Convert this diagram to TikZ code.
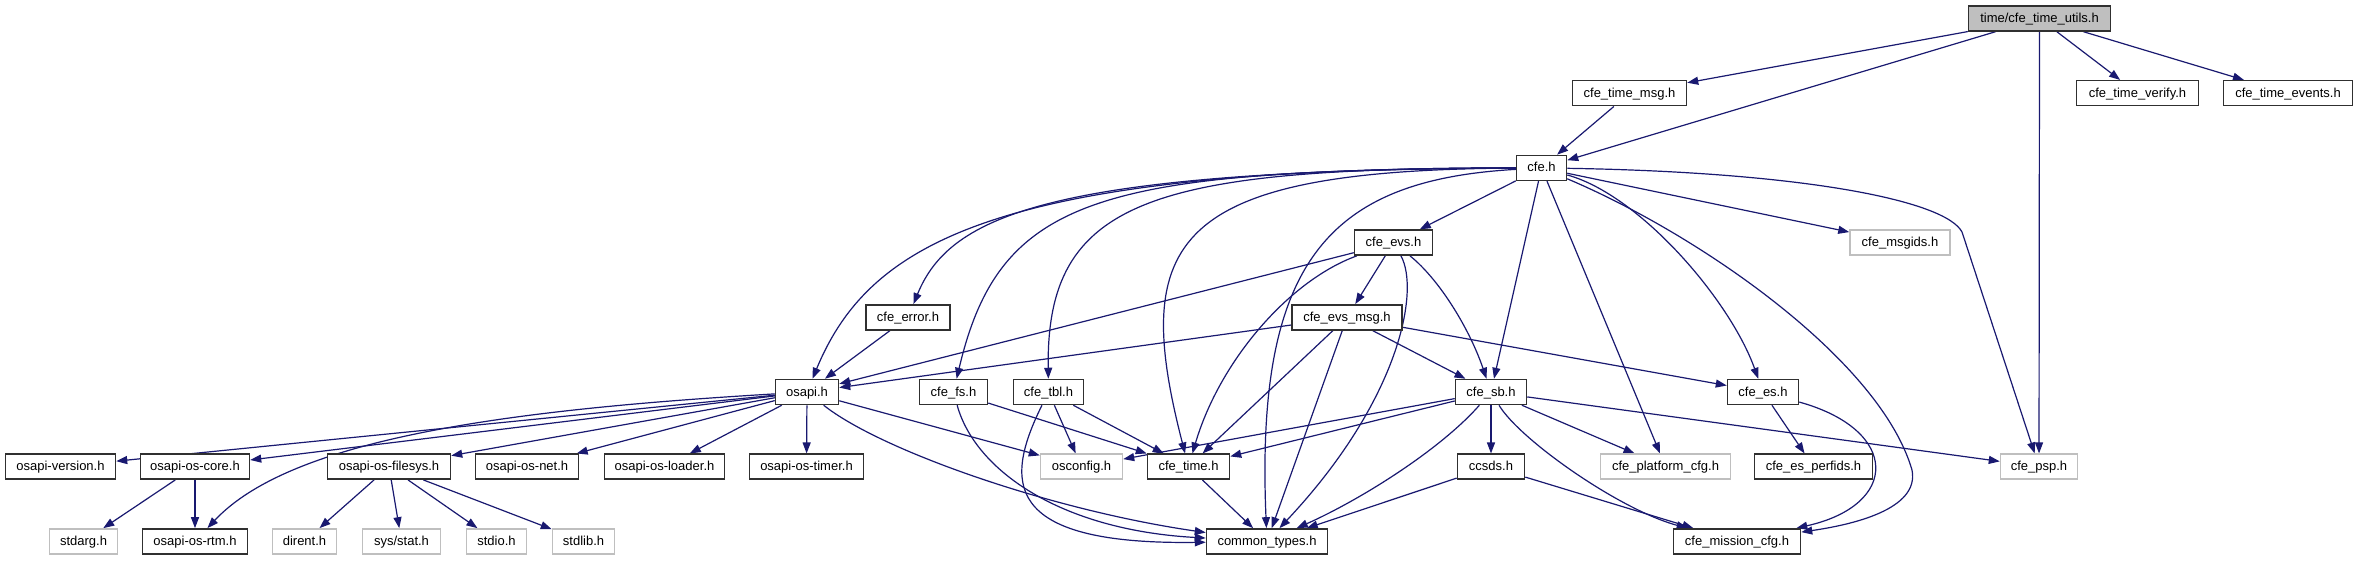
\documentclass[tikz,border=0pt]{standalone}
\usepackage{fontspec}
\setmainfont{Liberation Sans}
\usetikzlibrary{arrows.meta,backgrounds}
\definecolor{edgeblue}{HTML}{191970}
\definecolor{extgray}{HTML}{BFBFBF}
\definecolor{rootfill}{HTML}{BFBFBF}
\definecolor{boxline}{HTML}{303030}
\begin{document}
\begin{tikzpicture}[x=1pt,y=-1pt,
  nd/.style={draw=boxline,line width=1.5pt,fill=white,minimum height=25pt,inner sep=0pt,
    font=\fontsize{13}{15}\selectfont,text height=10pt,text depth=2pt},
  ext/.style={nd,draw=extgray},
  root/.style={nd,fill=rootfill},
  dep/.style={draw=edgeblue,line width=1.2pt,-{Triangle[length=11pt,width=8pt]}}]
\useasboundingbox (0,0) rectangle (2359,560);
% rank 0
\node[root,minimum width=142pt] (T) at (2039.5,18.5) {time/cfe\_time\_utils.h};
% rank 1
\node[nd,minimum width=114pt] (tmsg) at (1629.5,93.2) {cfe\_time\_msg.h};
\node[nd,minimum width=122pt] (tverify) at (2137.5,93.2) {cfe\_time\_verify.h};
\node[nd,minimum width=129pt] (tevents) at (2288,93.2) {cfe\_time\_events.h};
% rank 2
\node[nd,minimum width=50pt] (cfe) at (1541.5,167.9) {cfe.h};
% rank 3
\node[nd,minimum width=78pt] (evs) at (1393.5,242.6) {cfe\_evs.h};
\node[ext,minimum width=100pt] (msgids) at (1900,242.6) {cfe\_msgids.h};
% rank 4
\node[nd,minimum width=84pt] (err) at (908,317.3) {cfe\_error.h};
\node[nd,minimum width=110pt] (evsmsg) at (1347,317.3) {cfe\_evs\_msg.h};
% rank 5
\node[nd,minimum width=63pt] (osapi) at (807,392) {osapi.h};
\node[nd,minimum width=68pt] (fs) at (953.5,392) {cfe\_fs.h};
\node[nd,minimum width=70pt] (tbl) at (1048.5,392) {cfe\_tbl.h};
\node[nd,minimum width=71pt] (sb) at (1491,392) {cfe\_sb.h};
\node[nd,minimum width=71pt] (es) at (1763,392) {cfe\_es.h};
% rank 6
\node[nd,minimum width=110pt] (version) at (60.5,466.7) {osapi-version.h};
\node[nd,minimum width=109pt] (core) at (195,466.7) {osapi-os-core.h};
\node[nd,minimum width=123pt] (filesys) at (389,466.7) {osapi-os-filesys.h};
\node[nd,minimum width=103pt] (net) at (527,466.7) {osapi-os-net.h};
\node[nd,minimum width=120pt] (loader) at (664.5,466.7) {osapi-os-loader.h};
\node[nd,minimum width=114pt] (timer) at (806.5,466.7) {osapi-os-timer.h};
\node[ext,minimum width=82pt] (osconfig) at (1081.5,466.7) {osconfig.h};
\node[nd,minimum width=82pt] (ctime) at (1188.5,466.7) {cfe\_time.h};
\node[nd,minimum width=67pt] (ccsds) at (1491,466.7) {ccsds.h};
\node[ext,minimum width=130pt] (platform) at (1665.5,466.7) {cfe\_platform\_cfg.h};
\node[nd,minimum width=118pt] (perfids) at (1813.5,466.7) {cfe\_es\_perfids.h};
\node[ext,minimum width=77pt] (psp) at (2039,466.7) {cfe\_psp.h};
% rank 7
\node[ext,minimum width=68pt] (stdarg) at (83.5,541.4) {stdarg.h};
\node[nd,minimum width=105pt] (rtm) at (195,541.4) {osapi-os-rtm.h};
\node[ext,minimum width=64pt] (dirent) at (304.5,541.4) {dirent.h};
\node[ext,minimum width=78pt] (sysstat) at (401.5,541.4) {sys/stat.h};
\node[ext,minimum width=60pt] (stdio) at (496.5,541.4) {stdio.h};
\node[ext,minimum width=62pt] (stdlib) at (583.5,541.4) {stdlib.h};
\node[nd,minimum width=121pt] (common) at (1267,541.4) {common\_types.h};
\node[nd,minimum width=127pt] (mission) at (1737,541.4) {cfe\_mission\_cfg.h};

\begin{scope}[on background layer]
\fill[white] (0,0) rectangle (2359,560);
% straight edges
\draw[dep] (T) -- (tmsg);
\draw[dep] (T) -- (cfe);
\draw[dep] (T) -- (psp);
\draw[dep] (T) -- (tverify);
\draw[dep] (T) -- (tevents);
\draw[dep] (tmsg) -- (cfe);
\draw[dep] (cfe) -- (evs);
\draw[dep] (cfe) -- (msgids);
\draw[dep] (cfe) -- (sb);
\draw[dep] (cfe) -- (platform);
\draw[dep] (evs) -- (evsmsg);
\draw[dep] (evs) -- (osapi);
\draw[dep] (evsmsg) -- (osapi);
\draw[dep] (evsmsg) -- (ctime);
\draw[dep] (evsmsg) -- (common);
\draw[dep] (evsmsg) -- (sb);
\draw[dep] (evsmsg) -- (es);
\draw[dep] (err) -- (osapi);
\draw[dep] (osapi) -- (version);
\draw[dep] (osapi) -- (core);
\draw[dep] (osapi) -- (filesys);
\draw[dep] (osapi) -- (net);
\draw[dep] (osapi) -- (loader);
\draw[dep] (osapi) -- (timer);
\draw[dep] (osapi) -- (osconfig);
\draw[dep] (core) -- (stdarg);
\draw[dep] (core) -- (rtm);
\draw[dep] (filesys) -- (dirent);
\draw[dep] (filesys) -- (sysstat);
\draw[dep] (filesys) -- (stdio);
\draw[dep] (filesys) -- (stdlib);
\draw[dep] (fs) -- (ctime);
\draw[dep] (tbl) -- (osconfig);
\draw[dep] (tbl) -- (ctime);
\draw[dep] (ctime) -- (common);
\draw[dep] (sb) -- (osconfig);
\draw[dep] (sb) -- (ctime);
\draw[dep] (sb) -- (ccsds);
\draw[dep] (sb) -- (platform);
\draw[dep] (sb) -- (psp);
\draw[dep] (ccsds) -- (common);
\draw[dep] (ccsds) -- (mission);
\draw[dep] (es) -- (perfids);
% curved edges
\draw[dep] (cfe) .. controls (1000,168) and (870,240) .. (osapi);
\draw[dep] (cfe) .. controls (1050,170) and (950,215) .. (err);
\draw[dep] (cfe) .. controls (1100,170) and (1000,195) .. (fs);
\draw[dep] (cfe) .. controls (1150,168) and (1046,200) .. (tbl);
\draw[dep] (cfe) .. controls (1170,170) and (1130,240) .. (ctime);
\draw[dep] (cfe) .. controls (1330,180) and (1255,260) .. (common);
\draw[dep] (cfe) .. controls (1640,195) and (1730,300) .. (es);
\draw[dep] (cfe) .. controls (1700,235) and (1880,360) .. (1912,470)
                 .. controls (1920,510) and (1850,525) .. (mission);
\draw[dep] (cfe) .. controls (1800,172) and (1945,200) .. (1962,232) -- (psp);
\draw[dep] (evs) .. controls (1290,280) and (1220,360) .. (ctime);
\draw[dep] (evs) .. controls (1420,290) and (1400,400) .. (common);
\draw[dep] (evs) .. controls (1440,280) and (1470,330) .. (sb);
\draw[dep] (osapi) .. controls (500,410) and (290,440) .. (rtm);
\draw[dep] (osapi) .. controls (880,450) and (1050,510) .. (common);
\draw[dep] (fs) .. controls (975,470) and (1060,530) .. (common);
\draw[dep] (tbl) .. controls (1005,480) and (1000,545) .. (common);
\draw[dep] (es) .. controls (1900,430) and (1900,505) .. (mission);
\draw[dep] (sb) .. controls (1520,440) and (1620,510) .. (mission);
\draw[dep] (sb) .. controls (1440,450) and (1360,500) .. (common);
\end{scope}
\end{tikzpicture}
\end{document}
